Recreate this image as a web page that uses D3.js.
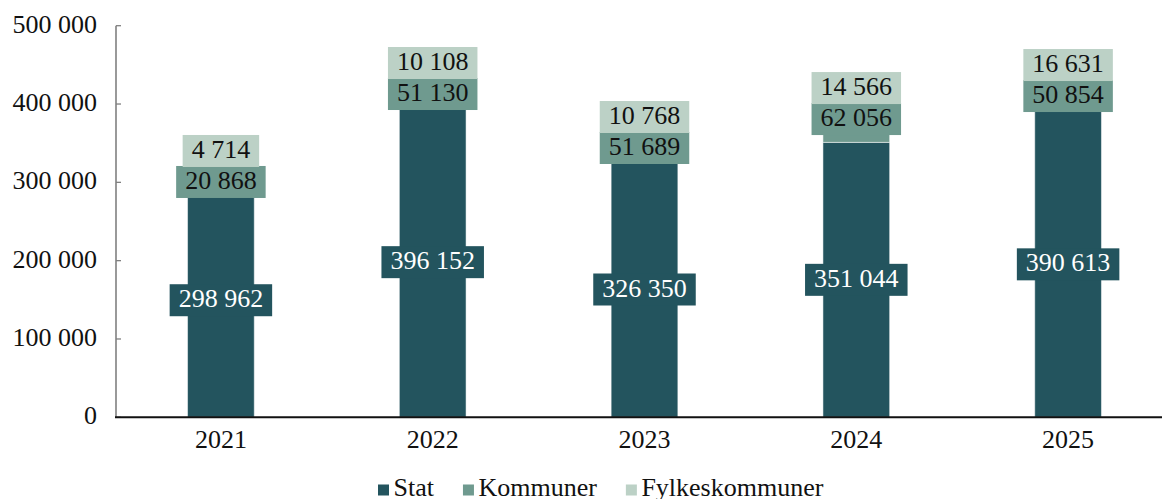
<!DOCTYPE html>
<html>
<head>
<meta charset="utf-8">
<script src="https://cdn.jsdelivr.net/npm/d3@7"></script>
<style>
  body { margin: 0; background: #fff; }
  svg text { font-family: "Liberation Serif", "Times New Roman", serif; font-size: 26px; fill: #111; }
</style>
</head>
<body>
<svg id="chart" width="1162" height="499"></svg>
<script>
// data
var years = ["2021", "2022", "2023", "2024", "2025"];
var stat = [298962, 396152, 326350, 351044, 390613];
var kommuner = [20868, 51130, 51689, 62056, 50854];
var fylkeskommuner = [4714, 10108, 10768, 14566, 16631];
var seriesNames = ["Stat", "Kommuner", "Fylkeskommuner"];
var colors = ["#23545e", "#6f9a8f", "#bcd1c6"];
var labelColors = ["#fff", "#111", "#111"];
var yTicks = [0, 100000, 200000, 300000, 400000, 500000];

var nb = d3.formatLocale({decimal: ",", thousands: "\u00a0", grouping: [3], currency: ["", ""]});
var fmt = nb.format(",d");

var svg = d3.select("#chart");
var x0 = 116, x1 = 1162, yTop = 25.7, yBase = 417.3;

var x = d3.scaleBand().domain(years).range([115, 1174]).paddingInner(0.685).paddingOuter(0.3425);
var y = d3.scaleLinear().domain([0, 500000]).range([yBase, yTop]);

var rows = years.map(function(yr, i){
  return {year: yr, Stat: stat[i], Kommuner: kommuner[i], Fylkeskommuner: fylkeskommuner[i]};
});
var stacked = d3.stack().keys(seriesNames)(rows);

// bars
stacked.forEach(function(s, si){
  svg.append("g").selectAll("rect")
    .data(s)
    .enter().append("rect")
    .attr("x", function(d){ return x(d.data.year); })
    .attr("y", function(d){ return y(d[1]); })
    .attr("width", x.bandwidth())
    .attr("height", function(d){ return y(d[0]) - y(d[1]); })
    .style("fill", colors[si])
    .style("stroke", "#fff")
    .style("stroke-opacity", 0.5)
    .style("stroke-width", 1);
});

// y axis
var yAxis = svg.append("g").attr("transform", "translate(" + x0 + ",0)");
yAxis.append("line").attr("y1", yTop).attr("y2", yBase).style("stroke", "#808080").style("stroke-width", 1.6);
yAxis.selectAll("line.tick").data(yTicks).enter().append("line")
  .attr("class", "tick")
  .attr("x1", 0).attr("x2", 5)
  .attr("y1", function(d){ return y(d); }).attr("y2", function(d){ return y(d); })
  .style("stroke", "#808080").style("stroke-width", 1.3);
yAxis.selectAll("text").data(yTicks).enter().append("text")
  .attr("x", -19)
  .attr("y", function(d){ return y(d) + 7; })
  .attr("text-anchor", "end")
  .text(function(d){ return fmt(d); });

// x axis
svg.append("line").attr("x1", x0 - 1).attr("x2", x1).attr("y1", yBase).attr("y2", yBase)
  .style("stroke", "#111").style("stroke-width", 2);
svg.append("g").selectAll("text").data(years).enter().append("text")
  .attr("x", function(d){ return x(d) + x.bandwidth() / 2; })
  .attr("y", 448)
  .attr("text-anchor", "middle")
  .text(function(d){ return d; });

// label positions: centred on segment, Kommuner / Fylkeskommuner pushed apart
var boxH = 32, sep = 31;
var labels = [];
years.forEach(function(yr, i){
  var c = stacked.map(function(s){ return (y(s[i][0]) + y(s[i][1])) / 2; });
  var gap = c[1] - c[2];
  if (gap < sep) {
    var shift = sep - gap;
    var down = Math.min(shift, 7);
    c[1] += down;
    c[2] -= shift - down;
  }
  seriesNames.forEach(function(name, si){
    labels.push({year: yr, si: si, v: rows[i][name], cy: c[si]});
  });
});

var lab = svg.append("g").selectAll("g")
  .data(labels)
  .enter().append("g");
lab.append("text")
  .attr("x", function(d){ return x(d.year) + x.bandwidth() / 2; })
  .attr("y", function(d){ return d.cy + 7; })
  .attr("text-anchor", "middle")
  .style("fill", function(d){ return labelColors[d.si]; })
  .text(function(d){ return fmt(d.v); });
lab.each(function(d){
  var g = d3.select(this);
  var w = g.select("text").node().getComputedTextLength() + 18;
  g.insert("rect", "text")
    .attr("x", x(d.year) + x.bandwidth() / 2 - w / 2)
    .attr("y", d.cy - boxH / 2)
    .attr("width", w)
    .attr("height", boxH)
    .style("fill", colors[d.si]);
});

// legend
var lx = 378;
seriesNames.forEach(function(name, i){
  var item = svg.append("g");
  item.append("rect").attr("x", lx).attr("y", 484.5).attr("width", 11).attr("height", 11).style("fill", colors[i]);
  var t = item.append("text").attr("x", lx + 15.5).attr("y", 496).text(name);
  lx += 15.5 + t.node().getComputedTextLength() + 29;
});
</script>
</body>
</html>
